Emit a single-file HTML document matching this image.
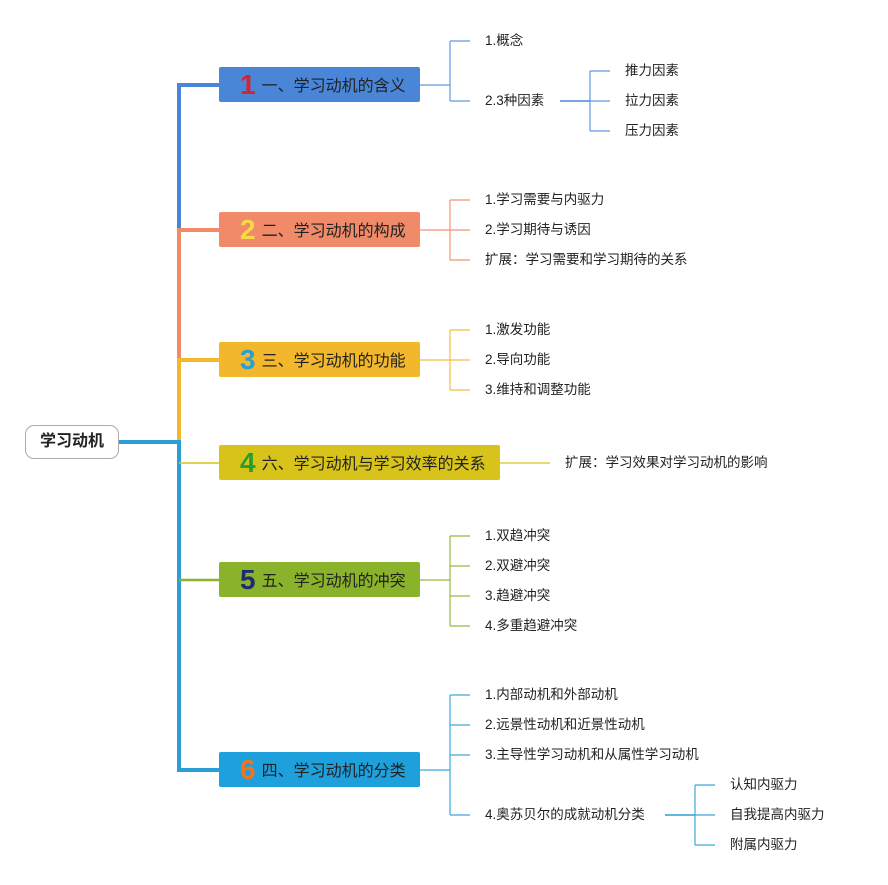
<!DOCTYPE html>
<html><head><meta charset="utf-8"><style>
body{margin:0;width:888px;height:885px;background:#fff;position:relative;overflow:hidden;font-family:"Liberation Sans","Noto Sans CJK SC",sans-serif}
.b{position:absolute;left:219px;width:201px;height:35px;border-radius:2px;font-size:16px;color:#222;line-height:35px;box-sizing:border-box;padding-left:21px;white-space:nowrap}
.b i{font-style:normal;font-weight:bold;font-size:28px;font-family:"Liberation Sans",sans-serif;vertical-align:-3px;margin-right:6px}
.t{position:absolute;font-size:13.5px;color:#222;white-space:nowrap;line-height:16px}
svg{position:absolute;left:0;top:0}
</style></head><body>
<svg width="888" height="885" fill="none">
<path d="M219 85H179V228" stroke="#4a86d8" stroke-width="4"/>
<path d="M219 230H179V358" stroke="#f08a68" stroke-width="4"/>
<path d="M219 360H179V442" stroke="#f2b72b" stroke-width="4"/>
<path d="M119 442H179V770H219" stroke="#2a9fd6" stroke-width="4"/>
<path d="M179 463H219" stroke="#d8c31a" stroke-width="1.5"/>
<path d="M179 580H219" stroke="#8ab22a" stroke-width="2.5"/>
<g stroke="#4a86d8" stroke-width="1.2" opacity=".85"><path d="M420 85H450M450 41V101M450 41H470M450 101H470"/></g>
<g stroke="#4a86d8" stroke-width="1.5"><path d="M560 101H590"/></g>
<g stroke="#4a86d8" stroke-width="1.2" opacity=".85"><path d="M590 71V131M590 71H610M590 101H610M590 131H610"/></g>
<g stroke="#f08a68" stroke-width="1.2" opacity=".9"><path d="M420 230H450M450 200V260M450 200H470M450 230H470M450 260H470"/></g>
<g stroke="#f2b72b" stroke-width="1.2" opacity=".9"><path d="M420 360H450M450 330V390M450 330H470M450 360H470M450 390H470"/></g>
<path d="M500 463H550" stroke="#d8c31a" stroke-width="1.2"/>
<g stroke="#8ab22a" stroke-width="1.2" opacity=".9"><path d="M420 580H450M450 536V626M450 536H470M450 566H470M450 596H470M450 626H470"/></g>
<g stroke="#2a9fd6" stroke-width="1.2" opacity=".9"><path d="M420 770H450M450 695V815M450 695H470M450 725H470M450 755H470M450 815H470"/></g>
<g stroke="#2a9fd6" stroke-width="1.5"><path d="M665 815H695"/></g>
<g stroke="#2a9fd6" stroke-width="1.2" opacity=".9"><path d="M695 785V845M695 785H715M695 815H715M695 845H715"/></g>
</svg>
<div style="position:absolute;left:25px;top:425px;width:94px;height:34px;border:1px solid #aaa;border-radius:9px;box-sizing:border-box;text-align:center;line-height:32px;font-size:16px;font-weight:bold;color:#222">学习动机</div>
<div class="b" style="top:67px;background:#4a86d8"><i style="color:#d8222e">1</i>一、学习动机的含义</div>
<div class="b" style="top:212px;background:#f08a68"><i style="color:#f7d94a">2</i>二、学习动机的构成</div>
<div class="b" style="top:342px;background:#f2b72b"><i style="color:#2a9fd6">3</i>三、学习动机的功能</div>
<div class="b" style="top:445px;width:281px;background:#d8c31a"><i style="color:#2a9d2a">4</i>六、学习动机与学习效率的关系</div>
<div class="b" style="top:562px;background:#8ab22a"><i style="color:#1f2d6e">5</i>五、学习动机的冲突</div>
<div class="b" style="top:752px;background:#1ea0dc"><i style="color:#f0731e">6</i>四、学习动机的分类</div>
<div class="t" style="left:485px;top:33px">1.概念</div>
<div class="t" style="left:485px;top:93px">2.3种因素</div>
<div class="t" style="left:625px;top:63px">推力因素</div>
<div class="t" style="left:625px;top:93px">拉力因素</div>
<div class="t" style="left:625px;top:123px">压力因素</div>
<div class="t" style="left:485px;top:192px">1.学习需要与内驱力</div>
<div class="t" style="left:485px;top:222px">2.学习期待与诱因</div>
<div class="t" style="left:485px;top:252px">扩展：学习需要和学习期待的关系</div>
<div class="t" style="left:485px;top:322px">1.激发功能</div>
<div class="t" style="left:485px;top:352px">2.导向功能</div>
<div class="t" style="left:485px;top:382px">3.维持和调整功能</div>
<div class="t" style="left:565px;top:455px">扩展：学习效果对学习动机的影响</div>
<div class="t" style="left:485px;top:528px">1.双趋冲突</div>
<div class="t" style="left:485px;top:558px">2.双避冲突</div>
<div class="t" style="left:485px;top:588px">3.趋避冲突</div>
<div class="t" style="left:485px;top:618px">4.多重趋避冲突</div>
<div class="t" style="left:485px;top:687px">1.内部动机和外部动机</div>
<div class="t" style="left:485px;top:717px">2.远景性动机和近景性动机</div>
<div class="t" style="left:485px;top:747px">3.主导性学习动机和从属性学习动机</div>
<div class="t" style="left:485px;top:807px">4.奥苏贝尔的成就动机分类</div>
<div class="t" style="left:730px;top:777px">认知内驱力</div>
<div class="t" style="left:730px;top:807px">自我提高内驱力</div>
<div class="t" style="left:730px;top:837px">附属内驱力</div>
</body></html>
